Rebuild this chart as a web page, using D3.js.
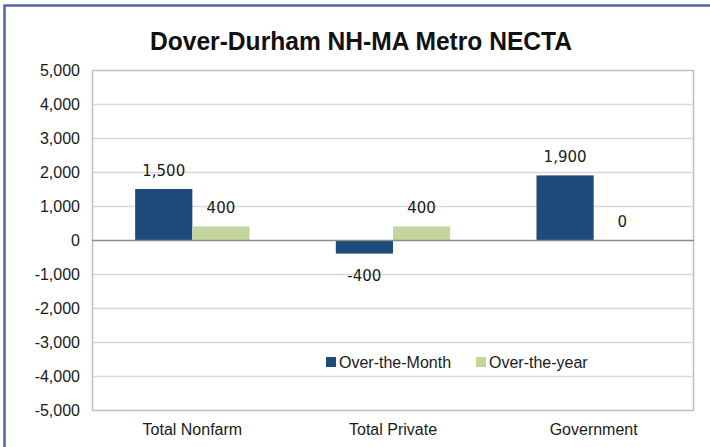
<!DOCTYPE html>
<html>
<head>
<meta charset="utf-8">
<script src="https://cdn.jsdelivr.net/npm/d3@7"></script>
<style>
  body { margin: 0; background: #fff; }
  .tick-label { font-family: "Liberation Sans", Arial, sans-serif; font-size: 16px; fill: #1a1a1a; }
  .data-label { font-family: "DejaVu Sans", Verdana, sans-serif; font-size: 15px; fill: #1a1a1a; }
</style>
</head>
<body>
<div class="chart"></div>
<script>
// chart data
// ==========================================================================
var categories = ["Total Nonfarm", "Total Private", "Government"];
var seriesNames = ["Over-the-Month", "Over-the-year"];
var overMonth = [1500, -400, 1900];
var overYear = [400, 400, 0];
var yTicks = [-5000, -4000, -3000, -2000, -1000, 0, 1000, 2000, 3000, 4000, 5000];
var colors = ["#1F4A7C", "#C3D69B"];

var svgWidth = 710;
var svgHeight = 447;

var margin = { top: 70, right: 16, bottom: 37, left: 92 };
var width = svgWidth - margin.left - margin.right;
var height = svgHeight - margin.top - margin.bottom;

var svg = d3.select(".chart")
  .append("svg")
  .attr("width", svgWidth)
  .attr("height", svgHeight);

// outer frame (runs off the right and bottom edges like the source image)
svg.append("rect")
  .attr("x", 4.5)
  .attr("y", 5.5)
  .attr("width", svgWidth + 20)
  .attr("height", svgHeight + 20)
  .attr("fill", "none")
  .attr("stroke", "#5366A4")
  .attr("stroke-width", 2.5);

// title - squeezed to look like a condensed face
svg.append("text")
  .attr("x", 150)
  .attr("y", 50)
  .attr("textLength", 422)
  .attr("lengthAdjust", "spacingAndGlyphs")
  .style("font-family", "'Liberation Sans', Arial, sans-serif")
  .style("font-weight", "bold")
  .style("font-size", "25px")
  .style("fill", "#111")
  .text("Dover-Durham NH-MA Metro NECTA");

var chartGroup = svg.append("g")
  .attr("transform", `translate(${margin.left}, ${margin.top})`);

// scales
var x0 = d3.scaleBand()
  .domain(categories)
  .range([0, width])
  .paddingInner(0.43)
  .paddingOuter(0.215);

var x1 = d3.scaleBand()
  .domain(seriesNames)
  .range([0, x0.bandwidth()]);

var y = d3.scaleLinear()
  .domain([-5000, 5000])
  .range([height, 0]);

// plain hyphen for negatives, like the source
var fmt = d => d3.format(",")(d).replace("\u2212", "-");

// gridlines
chartGroup.append("g")
  .selectAll("line")
  .data(yTicks.filter(d => d !== 0))
  .enter()
  .append("line")
  .attr("x1", 0)
  .attr("x2", width)
  .attr("y1", d => Math.round(y(d)) + 0.5)
  .attr("y2", d => Math.round(y(d)) + 0.5)
  .attr("stroke", d => (d === 5000 || d === -5000) ? "#BFBFBF" : "#D9D9D9")
  .attr("stroke-width", 1.5);

// plot area side borders
chartGroup.append("line")
  .attr("x1", 0.5).attr("x2", 0.5)
  .attr("y1", y(5000)).attr("y2", y(-5000))
  .attr("stroke", "#BFBFBF").attr("stroke-width", 1.5);
chartGroup.append("line")
  .attr("x1", width - 0.5).attr("x2", width - 0.5)
  .attr("y1", y(5000)).attr("y2", y(-5000))
  .attr("stroke", "#BFBFBF").attr("stroke-width", 1.5);

// y axis labels
var leftAxis = d3.axisLeft(y)
  .tickValues(yTicks)
  .tickFormat(fmt)
  .tickSize(0)
  .tickPadding(12);

var yAxis = chartGroup.append("g").call(leftAxis);
yAxis.select(".domain").remove();
yAxis.selectAll("text")
  .attr("class", "tick-label")
  .attr("font-family", null)
  .attr("font-size", null);

// bars
var rows = categories.map((c, i) => ({ cat: c, values: [overMonth[i], overYear[i]] }));

var groups = chartGroup.selectAll(".group")
  .data(rows)
  .enter()
  .append("g")
  .attr("class", "group")
  .attr("transform", d => `translate(${x0(d.cat)}, 0)`);

groups.selectAll("rect")
  .data(d => d.values.map((v, j) => ({ series: seriesNames[j], value: v, j: j })))
  .enter()
  .append("rect")
  .attr("x", d => x1(d.series))
  .attr("width", x1.bandwidth())
  .attr("y", d => y(Math.max(0, d.value)))
  .attr("height", d => Math.abs(y(d.value) - y(0)))
  .attr("fill", d => colors[d.j]);

// data labels
groups.selectAll(".data-label")
  .data(d => d.values.map((v, j) => ({ series: seriesNames[j], value: v, j: j })))
  .enter()
  .append("text")
  .attr("class", "data-label")
  .attr("text-anchor", "middle")
  .attr("x", d => x1(d.series) + x1.bandwidth() / 2)
  .attr("y", d => d.value < 0 ? y(d.value) + 27 : y(d.value) - 13)
  .text(d => fmt(d.value));

// zero line
chartGroup.append("line")
  .attr("x1", 0)
  .attr("x2", width)
  .attr("y1", y(0) + 0.5)
  .attr("y2", y(0) + 0.5)
  .attr("stroke", "#8C8C8C")
  .attr("stroke-width", 1.5);

// category labels
var bottomAxis = d3.axisBottom(x0).tickSize(0).tickPadding(14);
var xAxis = chartGroup.append("g")
  .attr("transform", `translate(0, ${height})`)
  .call(bottomAxis);
xAxis.select(".domain").remove();
xAxis.selectAll("text")
  .attr("class", "tick-label")
  .attr("font-family", null)
  .attr("font-size", null);

// legend
var legend = svg.append("g")
  .attr("transform", "translate(326, 362)");

var legendItems = legend.selectAll(".legend-item")
  .data(seriesNames)
  .enter()
  .append("g")
  .attr("class", "legend-item")
  .attr("transform", (d, i) => `translate(${i * 150}, 0)`);

legendItems.append("rect")
  .attr("x", 0)
  .attr("y", -5)
  .attr("width", 10)
  .attr("height", 10)
  .attr("fill", (d, i) => colors[i]);

legendItems.append("text")
  .attr("class", "tick-label")
  .attr("x", 13)
  .attr("dy", "0.35em")
  .text(d => d);
</script>
</body>
</html>
